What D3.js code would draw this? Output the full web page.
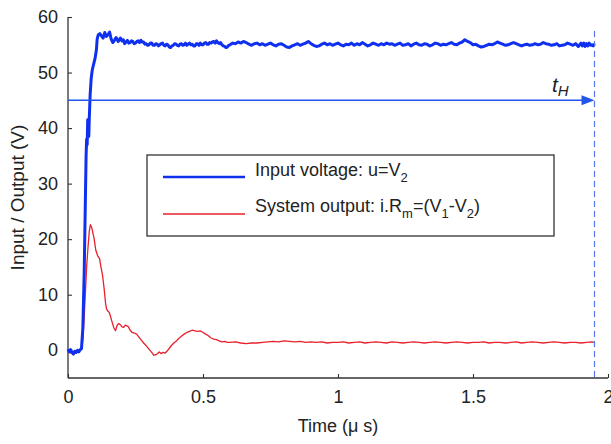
<!DOCTYPE html>
<html><head><meta charset="utf-8">
<script src="https://cdn.jsdelivr.net/npm/d3@7"></script>
<style>
html,body{margin:0;padding:0;background:#fff;}
text{font-family:"Liberation Sans",Arial,Helvetica,sans-serif;fill:#222;}
</style></head>
<body><svg id="c" width="611" height="444"></svg>
<script>
// ---- data (time in µs, voltage in V) ----
const inputT = [0,0.005,0.01,0.015,0.02,0.025,0.03,0.035,0.04,0.045,0.05,0.055,0.06,0.064,0.067,0.069,0.071,0.073,0.075,0.077,0.079,0.082,0.086,0.09,0.095,0.1,0.105,0.108,0.112,0.118,0.124,0.13,0.136,0.142,0.148,0.154,0.16,0.166,0.172,0.178,0.186,0.194,0.2,0.205,0.21,0.215,0.22,0.225,0.23,0.235,0.24,0.245,0.25,0.255,0.26,0.265,0.27,0.275,0.28,0.285,0.29,0.295,0.3,0.305,0.31,0.315,0.32,0.325,0.33,0.335,0.34,0.345,0.35,0.355,0.36,0.365,0.37,0.375,0.38,0.385,0.39,0.395,0.4,0.405,0.41,0.415,0.42,0.425,0.43,0.435,0.44,0.445,0.45,0.455,0.46,0.465,0.47,0.475,0.48,0.485,0.49,0.495,0.5,0.505,0.51,0.515,0.52,0.525,0.53,0.535,0.54,0.545,0.55,0.555,0.56,0.565,0.57,0.575,0.58,0.585,0.59,0.595,0.6,0.61,0.62,0.63,0.64,0.65,0.66,0.67,0.68,0.69,0.7,0.71,0.72,0.73,0.74,0.75,0.76,0.77,0.78,0.79,0.8,0.81,0.82,0.83,0.84,0.85,0.86,0.87,0.88,0.89,0.9,0.91,0.92,0.93,0.94,0.95,0.96,0.97,0.98,0.99,1.0,1.01,1.02,1.03,1.04,1.05,1.06,1.07,1.08,1.09,1.1,1.11,1.12,1.13,1.14,1.15,1.16,1.17,1.18,1.19,1.2,1.21,1.22,1.23,1.24,1.25,1.26,1.27,1.28,1.29,1.3,1.31,1.32,1.33,1.34,1.35,1.36,1.37,1.38,1.39,1.4,1.41,1.42,1.43,1.44,1.45,1.46,1.47,1.48,1.49,1.5,1.51,1.52,1.53,1.54,1.55,1.56,1.57,1.58,1.59,1.6,1.61,1.62,1.63,1.64,1.65,1.66,1.67,1.68,1.69,1.7,1.71,1.72,1.73,1.74,1.75,1.76,1.77,1.78,1.79,1.8,1.81,1.82,1.83,1.84,1.85,1.86,1.87,1.88,1.89,1.9,1.905,1.91,1.915,1.92,1.925,1.93,1.935,1.94,1.945,1.95];
const inputV = [0.2,-0.3,0.1,-0.4,-0.7,-0.2,-0.4,0.0,-0.3,0.1,0.3,4,14,26,35,38,37,41.5,41,38.5,42,46,49,50.5,51.5,52.5,54,56,56.8,57,56.6,56.2,57.2,56.5,56.8,57.3,56,55.4,55.8,56.3,55.6,56.2,55.7,55.9,55.2,55.5,55.8,55.3,55.4,55.7,55.6,55.2,55.3,55.6,55.7,55.4,55.8,55.5,55.5,55.1,55.2,54.9,55.0,55.3,55.3,54.9,54.9,55.2,55.1,54.8,55.0,55.2,55.3,54.9,54.8,55.1,55.0,54.6,54.5,54.8,54.9,55.2,55.1,54.9,54.8,55.1,55.2,54.9,55.0,55.3,54.9,55.1,55.3,55.0,55.1,54.8,54.8,55.2,55.2,54.9,55.3,55.0,55.0,55.3,55.4,55.1,55.1,55.4,55.3,55.5,55.6,55.3,55.7,55.4,55.2,55.4,55.0,54.8,54.7,54.5,54.6,54.9,55.0,55.3,55.2,55.5,55.3,55.6,55.4,55.1,54.9,55.2,55.3,55.0,55.2,54.9,55.1,55.3,55.0,54.8,55.1,55.2,54.9,54.6,54.5,54.8,55.0,55.2,54.9,55.1,55.3,55.6,55.2,54.9,54.7,54.8,55.1,55.3,55.0,55.2,54.9,55.1,55.3,55.0,54.8,55.1,55.0,55.3,54.9,55.2,55.0,55.4,55.1,54.8,55.0,55.3,55.1,54.9,55.2,55.0,55.3,55.1,55.2,54.9,55.1,55.3,54.9,55.0,55.2,54.8,55.1,55.3,55.0,54.9,55.2,55.1,54.8,55.0,55.3,55.2,54.9,55.1,55.0,55.2,55.4,55.1,55.0,55.3,55.5,55.9,55.6,55.4,55.0,55.1,54.8,54.6,54.7,54.9,55.1,55.0,55.2,55.5,55.3,55.1,54.9,55.0,55.2,55.4,55.2,55.0,54.8,55.0,55.1,54.9,55.0,55.2,55.0,55.1,55.4,55.2,55.1,54.9,55.0,55.2,54.8,54.9,55.0,55.3,55.1,54.9,55.2,54.7,55.3,54.8,55.3,54.7,55.2,54.8,55.3,54.9,55.0,54.8,55.2];
const outputT = [0,0.01,0.02,0.03,0.04,0.05,0.055,0.06,0.065,0.069,0.074,0.079,0.083,0.087,0.091,0.097,0.103,0.11,0.117,0.122,0.128,0.134,0.139,0.143,0.148,0.153,0.158,0.165,0.17,0.176,0.182,0.188,0.194,0.2,0.206,0.212,0.218,0.224,0.23,0.238,0.246,0.254,0.262,0.27,0.28,0.29,0.3,0.31,0.318,0.326,0.332,0.338,0.344,0.352,0.36,0.368,0.376,0.384,0.392,0.4,0.41,0.42,0.43,0.44,0.45,0.46,0.47,0.48,0.49,0.5,0.51,0.52,0.53,0.54,0.55,0.56,0.57,0.58,0.59,0.6,0.62,0.64,0.66,0.68,0.7,0.72,0.74,0.76,0.78,0.8,0.82,0.84,0.86,0.88,0.9,0.92,0.94,0.96,0.98,1.0,1.02,1.04,1.06,1.08,1.1,1.12,1.14,1.16,1.18,1.2,1.22,1.24,1.26,1.28,1.3,1.32,1.34,1.36,1.38,1.4,1.42,1.44,1.46,1.48,1.5,1.52,1.54,1.56,1.58,1.6,1.62,1.64,1.66,1.68,1.7,1.72,1.74,1.76,1.78,1.8,1.82,1.84,1.86,1.88,1.9,1.92,1.94,1.95];
const outputV = [-0.2,-0.5,-0.3,-0.5,-0.2,0.1,2,6,11,15,18.5,21.5,22.6,22.2,21.4,20,18,17,16.5,15,13.5,11,8.5,7.4,7,6.8,6,4.8,4,3.5,4.5,4.8,4.6,4.2,4.1,4.5,4.4,4.2,3.6,3.2,3.1,2.9,2.4,1.9,1.3,0.8,0.2,-0.4,-0.9,-0.8,-0.6,-0.3,-0.6,-0.4,-0.5,-0.1,0.4,0.9,1.3,1.6,2.1,2.5,2.9,3.2,3.4,3.6,3.5,3.4,3.5,3.2,2.9,2.6,2.2,2.0,1.9,1.7,1.5,1.6,1.4,1.4,1.5,1.3,1.2,1.3,1.3,1.4,1.5,1.6,1.5,1.7,1.6,1.5,1.6,1.4,1.5,1.4,1.5,1.3,1.4,1.4,1.5,1.3,1.4,1.5,1.3,1.4,1.5,1.4,1.3,1.5,1.4,1.3,1.4,1.5,1.4,1.3,1.4,1.5,1.4,1.3,1.4,1.5,1.4,1.3,1.4,1.4,1.5,1.3,1.4,1.4,1.3,1.4,1.5,1.3,1.4,1.5,1.4,1.3,1.4,1.5,1.4,1.3,1.4,1.4,1.3,1.4,1.5,1.4];
const xTicks = [0,0.5,1,1.5,2];
const xTickLabels = ["0","0.5","1","1.5","2"];
const yTicks = [0,10,20,30,40,50,60];
const legendLabels = ["Input voltage: u=V", "System output: i.R"];
const tH = 1.95;      // horizon time (dashed line)
const arrowLevel = 45; // arrow level (V)

// ---- layout ----
const svg = d3.select("#c");
const x = d3.scaleLinear().domain([0,2]).range([68,608]);
const y = d3.scaleLinear().domain([-5,60]).range([378,17]);
const fs = 18;

// axes (ticks inward)
const xAxis = d3.axisBottom(x).tickValues(xTicks).tickFormat((d,i)=>xTickLabels[i]).tickSize(-4).tickPadding(12);
const yAxis = d3.axisLeft(y).tickValues(yTicks).tickFormat(d3.format("d")).tickSize(-4).tickPadding(10);
const gx = svg.append("g").attr("transform",`translate(0,${y(-5)})`).call(xAxis);
const gy = svg.append("g").attr("transform",`translate(${x(0)},0)`).call(yAxis);
[gx,gy].forEach(g=>{
  g.select(".domain").attr("stroke","#333").attr("stroke-width",1.3);
  g.selectAll(".tick line").attr("stroke","#333").attr("stroke-width",1.1);
  g.selectAll(".tick text").attr("font-size",fs).attr("fill","#222").attr("font-family","Liberation Sans, Arial, sans-serif");
});
gy.select(".domain").attr("d",`M0,${y(60)}V${y(-5)}`);
gx.select(".domain").attr("d",`M${x(0)},0H${x(2)}`);

// axis titles
svg.append("text").attr("x",x(1)).attr("y",432).attr("text-anchor","middle").attr("font-size",fs)
  .text("Time (\u03bc s)");
svg.append("text").attr("transform",`translate(24,${y(27.5)}) rotate(-90)`).attr("text-anchor","middle").attr("font-size",fs+1)
  .text("Input / Output (V)");

// series
const line = d3.line().x(d=>x(d[0])).y(d=>y(d[1]));
const redData = outputT.map((t,i)=>[t,outputV[i]]);
const blueData = inputT.map((t,i)=>[t,inputV[i]]);
svg.append("path").datum(redData).attr("d",line).attr("fill","none").attr("stroke","#e8202c").attr("stroke-width",1.3).attr("stroke-linejoin","round");
svg.append("path").datum(blueData).attr("d",line).attr("fill","none").attr("stroke","#1030f0").attr("stroke-width",3).attr("stroke-linejoin","round");

// horizon dashed line
svg.append("line").attr("x1",x(tH)).attr("x2",x(tH)).attr("y1",y(57.5)).attr("y2",y(-5))
  .attr("stroke","#5577ee").attr("stroke-width",1.2).attr("stroke-dasharray","6,4");
// arrow
const ax1 = x(0), ax2 = x(tH), ay = y(arrowLevel);
svg.append("line").attr("x1",ax1).attr("x2",ax2-10).attr("y1",ay).attr("y2",ay).attr("stroke","#2255ee").attr("stroke-width",1.6);
svg.append("path").attr("d",`M${ax2},${ay}L${ax2-13},${ay-5}L${ax2-13},${ay+5}Z`).attr("fill","#2255ee");
const tl = svg.append("text").attr("x",552).attr("y",92).attr("font-family","DejaVu Serif, Liberation Serif, serif").attr("font-style","italic").attr("font-size",21).attr("fill","#222");
tl.append("tspan").text("t");
tl.append("tspan").attr("dy",4).attr("font-size",15).text("H");

// legend
const lg = svg.append("g");
lg.append("rect").attr("x",147).attr("y",155).attr("width",407).attr("height",81).attr("fill","#fff").attr("stroke","#333").attr("stroke-width",1.3);
lg.append("line").attr("x1",163).attr("x2",245).attr("y1",177).attr("y2",177).attr("stroke","#1030f0").attr("stroke-width",2.5);
lg.append("line").attr("x1",163).attr("x2",245).attr("y1",214).attr("y2",214).attr("stroke","#e8202c").attr("stroke-width",1.3);
const t1 = lg.append("text").attr("x",255).attr("y",176).attr("font-size",fs);
t1.append("tspan").text(legendLabels[0]);
t1.append("tspan").attr("dy",6).attr("font-size",13).text("2");
const t2 = lg.append("text").attr("x",255).attr("y",212).attr("font-size",fs);
t2.append("tspan").text(legendLabels[1]);
t2.append("tspan").attr("dy",6).attr("font-size",13).text("m");
t2.append("tspan").attr("dy",-6).text("=(V");
t2.append("tspan").attr("dy",6).attr("font-size",13).text("1");
t2.append("tspan").attr("dy",-6).text("-V");
t2.append("tspan").attr("dy",6).attr("font-size",13).text("2");
t2.append("tspan").attr("dy",-6).text(")");
</script></body></html>
